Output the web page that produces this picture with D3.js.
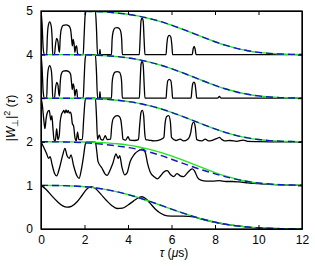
<!doctype html><html><head></head><body><script src='https://d3js.org/d3.v7.min.js'></script>

<style>
  body { margin: 0; background: #fff; }
  svg text { font: 12px "Liberation Sans", Arial, sans-serif; fill: #000; }
  .axis path, .axis line { stroke: #000; }
</style>

<script>
  // tick labels
  var tauTicks = [0, 2, 4, 6, 8, 10, 12];
  var yTicks = [0, 1, 2, 3, 4, 5];
  // each trace is shifted up by its offset
  var offsets = [0, 1, 2, 3, 4];

  // envelope sample times (us)
  var envTau = [0, 0.5, 1, 1.5, 2, 2.5, 3, 3.5, 4, 4.5, 5, 5.5, 6, 6.5, 7, 7.5, 8, 8.5, 9, 9.5, 10, 10.5, 11, 11.5, 12];
  // green envelope, bottom trace
  var greenLow = [1, 1, 0.996, 0.988, 0.971, 0.945, 0.906, 0.855, 0.792, 0.718, 0.634, 0.546, 0.455, 0.368, 0.287, 0.215, 0.155, 0.107, 0.070, 0.044, 0.026, 0.015, 0.008, 0.004, 0.002];
  // green envelope, upper traces
  var greenHigh = [1, 1, 1, 0.998, 0.995, 0.988, 0.976, 0.956, 0.926, 0.884, 0.829, 0.760, 0.678, 0.586, 0.487, 0.388, 0.293, 0.209, 0.140, 0.087, 0.050, 0.026, 0.012, 0.005, 0.002];
  // blue dashed envelope of trace 1 (sits a bit lower)
  var blueMid = [1, 1, 0.998, 0.99, 0.978, 0.96, 0.935, 0.905, 0.87, 0.825, 0.765, 0.69, 0.6, 0.51, 0.42, 0.34, 0.265, 0.195, 0.135, 0.088, 0.053, 0.03, 0.015, 0.007, 0.003];

  // black traces [tau, value] before offset
  var black0 = [[0,1],[0.25,0.9],[0.5,0.76],[0.75,0.63],[1.0,0.53],[1.2,0.5],[1.4,0.52],[1.65,0.62],[1.9,0.78],[2.1,0.91],[2.3,0.97],[2.5,0.93],[2.75,0.8],[3.0,0.66],[3.25,0.54],[3.5,0.47],[3.75,0.48],[4.0,0.55],[4.25,0.64],[4.5,0.72],[4.65,0.74],[4.85,0.68],[5.0,0.6],[5.25,0.46],[5.5,0.36],[5.8,0.3],[6.2,0.295],[6.5,0.295],[6.8,0.29],[7.0,0.28],[7.5,0.21],[8,0.155],[8.5,0.107],[9,0.07],[9.5,0.044],[10,0.026],[10.5,0.015],[11,0.008],[11.5,0.004],[12,0.002]];
  var black1 = [[0,1],[0.1,0.9],[0.25,0.74],[0.35,0.62],[0.42,0.66],[0.5,0.5],[0.62,0.28],[0.72,0.22],[0.85,0.4],[1.0,0.7],[1.1,0.85],[1.2,0.68],[1.3,0.62],[1.38,0.7],[1.5,0.45],[1.65,0.22],[1.75,0.16],[1.85,0.35],[1.95,0.65],[2.04,0.95],[2.1,0.995],[2.5,0.99],[2.56,0.8],[2.62,0.55],[2.8,0.4],[2.95,0.26],[3.05,0.23],[3.15,0.32],[3.3,0.5],[3.45,0.72],[3.55,0.62],[3.62,0.68],[3.72,0.42],[3.85,0.24],[3.95,0.28],[4.1,0.55],[4.3,0.72],[4.5,0.8],[4.68,0.84],[4.8,0.75],[4.9,0.5],[5.02,0.31],[5.2,0.2],[5.35,0.15],[5.5,0.22],[5.65,0.31],[5.8,0.34],[5.95,0.25],[6.1,0.2],[6.25,0.27],[6.4,0.22],[6.55,0.2],[6.7,0.27],[6.85,0.35],[6.95,0.38],[7.05,0.34],[7.2,0.18],[7.35,0.12],[7.6,0.1],[7.9,0.1],[8.2,0.11],[8.5,0.09],[8.8,0.09],[9.1,0.08],[9.5,0.06],[9.8,0.045],[10,0.04],[10.5,0.024],[11,0.012],[11.5,0.005],[12,0.002]];
  var black2 = [[0,1],[0.06,0.85],[0.12,0.55],[0.18,0.3],[0.24,0.55],[0.3,0.68],[0.38,0.72],[0.45,0.5],[0.5,0.6],[0.55,0.3],[0.6,0.05],[0.66,0.02],[0.72,0.3],[0.78,0.05],[0.84,0.15],[0.88,0.45],[0.94,0.62],[1.0,0.68],[1.05,0.72],[1.1,0.66],[1.15,0.73],[1.2,0.67],[1.25,0.72],[1.3,0.66],[1.35,0.68],[1.4,0.6],[1.44,0.42],[1.5,0.36],[1.56,0.1],[1.62,0.02],[1.68,0.22],[1.74,0.05],[1.9,0.05],[1.96,0.5],[2.03,0.95],[2.08,1.0],[2.5,1.0],[2.55,0.6],[2.6,0.05],[2.68,0.16],[2.75,0.06],[2.85,0.04],[2.95,0.14],[3.05,0.05],[3.2,0.06],[3.25,0.35],[3.31,0.52],[3.4,0.58],[3.5,0.6],[3.6,0.58],[3.67,0.5],[3.72,0.3],[3.77,0.06],[3.9,0.04],[4.0,0.12],[4.08,0.04],[4.3,0.03],[4.48,0.05],[4.54,0.4],[4.6,0.68],[4.66,0.72],[4.72,0.6],[4.77,0.2],[4.82,0.05],[4.95,0.04],[5.2,0.02],[5.5,0.05],[5.65,0.1],[5.7,0.4],[5.78,0.58],[5.87,0.6],[5.95,0.45],[6.0,0.1],[6.2,0.03],[6.4,0.06],[6.55,0.02],[6.75,0.06],[6.88,0.2],[6.95,0.4],[7.02,0.45],[7.09,0.35],[7.16,0.05],[7.4,0.02],[7.55,0.06],[7.7,0.02],[7.9,0.04],[8.1,0.08],[8.2,0.1],[8.3,0.06],[8.45,0.02],[8.7,0.03],[9.0,0.01],[9.3,0.04],[9.5,0.01],[10,0.005],[11,0],[12,0]];
  var black3 = [[0,1],[0.05,0.7],[0.1,0.15],[0.15,0],[0.26,0],[0.29,0.4],[0.33,0.65],[0.4,0.745],[0.47,0.65],[0.51,0.4],[0.54,0],[0.62,0],[0.66,0.2],[0.72,0.36],[0.78,0.3],[0.82,0.1],[0.85,0.05],[0.88,0.33],[0.93,0.55],[1.02,0.62],[1.15,0.63],[1.28,0.61],[1.36,0.55],[1.41,0.33],[1.44,0.2],[1.48,0.33],[1.52,0.25],[1.56,0.05],[1.6,0.17],[1.64,0.2],[1.68,0.02],[1.75,0],[1.94,0],[1.98,0.4],[2.03,0.9],[2.08,1.0],[2.5,1.0],[2.55,0.6],[2.6,0],[2.68,0],[2.71,0.15],[2.74,0],[3.24,0],[3.27,0.35],[3.32,0.52],[3.4,0.6],[3.5,0.61],[3.6,0.6],[3.67,0.52],[3.71,0.35],[3.74,0],[4.52,0],[4.56,0.4],[4.6,0.78],[4.65,0.85],[4.7,0.76],[4.74,0.35],[4.78,0],[5.75,0],[5.78,0.2],[5.83,0.4],[5.9,0.43],[5.97,0.4],[6.02,0.2],[6.05,0],[6.9,0],[6.94,0.2],[6.98,0.34],[7.03,0.37],[7.08,0.33],[7.12,0.18],[7.16,0],[8.12,0],[8.2,0.04],[8.28,0],[12,0]];
  var black4 = [[0,1],[0.05,0.7],[0.1,0.15],[0.15,0],[0.26,0],[0.29,0.4],[0.33,0.65],[0.4,0.75],[0.47,0.65],[0.51,0.4],[0.54,0],[0.62,0],[0.66,0.2],[0.72,0.37],[0.78,0.3],[0.82,0.1],[0.85,0.05],[0.88,0.35],[0.93,0.58],[1.02,0.67],[1.15,0.68],[1.28,0.66],[1.36,0.58],[1.41,0.35],[1.44,0.2],[1.48,0.35],[1.52,0.25],[1.56,0.05],[1.6,0.18],[1.64,0.2],[1.68,0.02],[1.75,0],[1.94,0],[1.98,0.4],[2.03,0.9],[2.08,1.0],[2.5,1.0],[2.55,0.6],[2.6,0],[2.68,0],[2.71,0.12],[2.74,0],[3.24,0],[3.27,0.35],[3.32,0.53],[3.4,0.61],[3.5,0.62],[3.6,0.6],[3.67,0.52],[3.71,0.35],[3.74,0],[4.52,0],[4.56,0.4],[4.6,0.78],[4.65,0.84],[4.7,0.76],[4.74,0.35],[4.78,0],[5.75,0],[5.78,0.2],[5.83,0.4],[5.9,0.44],[5.97,0.4],[6.02,0.2],[6.05,0],[6.95,0],[7.0,0.14],[7.04,0.19],[7.08,0.14],[7.13,0],[12,0]];

  var blacks = [black0, black1, black2, black3, black4];
  var greens = [greenLow, greenHigh, greenHigh, greenHigh, greenHigh];
  var blues = [greenLow, blueMid, greenHigh, greenHigh, greenHigh];

  var width = 315, height = 270;
  var mLeft = 41, mRight = 302, mTop = 11, mBottom = 229;

  var x = d3.scaleLinear().domain([0, 12]).range([mLeft, mRight]);
  var y = d3.scaleLinear().domain([0, 5]).range([mBottom, mTop]);

  var svg = d3.select("body").append("svg")
    .attr("width", width)
    .attr("height", height);

  svg.append("clipPath").attr("id", "plotclip")
    .append("rect")
    .attr("x", mLeft).attr("y", mTop)
    .attr("width", mRight - mLeft).attr("height", mBottom - mTop);

  var plot = svg.append("g").attr("clip-path", "url(#plotclip)");

  function traceLine(off) {
    return d3.line()
      .x(function(d) { return x(d[0]); })
      .y(function(d) { return y(d[1] + off); })
      .curve(d3.curveMonotoneX);
  }

  function envPoints(vals) {
    return envTau.map(function(t, i) { return [t, vals[i]]; });
  }

  // black traces
  offsets.forEach(function(off, i) {
    plot.append("path")
      .attr("d", traceLine(off)(blacks[i]))
      .attr("fill", "none")
      .attr("stroke", "#000")
      .attr("stroke-width", 1.3);
  });

  // green envelopes
  offsets.forEach(function(off, i) {
    plot.append("path")
      .attr("d", traceLine(off).curve(d3.curveBasis)(envPoints(greens[i])))
      .attr("fill", "none")
      .attr("stroke", "#1ee81e")
      .attr("stroke-width", 1.4);
  });

  // blue dashed envelopes
  offsets.forEach(function(off, i) {
    plot.append("path")
      .attr("d", traceLine(off).curve(d3.curveBasis)(envPoints(blues[i])))
      .attr("fill", "none")
      .attr("stroke", "#1515c8")
      .attr("stroke-width", 1.4)
      .attr("stroke-dasharray", "7,4");
  });

  // axes, ticks pointing inwards
  svg.append("g").attr("class", "axis")
    .attr("transform", "translate(0," + mBottom + ")")
    .call(d3.axisBottom(x).tickValues(tauTicks).tickSizeInner(-4).tickSizeOuter(0).tickPadding(6));
  svg.append("g").attr("class", "axis")
    .attr("transform", "translate(0," + mTop + ")")
    .call(d3.axisTop(x).tickValues(tauTicks).tickSizeInner(-4).tickSizeOuter(0).tickFormat(""));
  svg.append("g").attr("class", "axis")
    .attr("transform", "translate(" + mLeft + ",0)")
    .call(d3.axisLeft(y).tickValues(yTicks).tickFormat(d3.format("d")).tickSizeInner(-4).tickSizeOuter(0).tickPadding(8));
  svg.append("g").attr("class", "axis")
    .attr("transform", "translate(" + mRight + ",0)")
    .call(d3.axisRight(y).tickValues(yTicks).tickSizeInner(-4).tickSizeOuter(0).tickFormat(""));

  svg.selectAll(".axis text").style("font-size", "12px");

  svg.append("rect")
    .attr("x", mLeft).attr("y", mTop)
    .attr("width", mRight - mLeft).attr("height", mBottom - mTop)
    .attr("fill", "none")
    .attr("stroke", "#000")
    .attr("stroke-width", 1.3);

  // x label
  var xl = svg.append("text")
    .attr("x", 174).attr("y", 257)
    .attr("text-anchor", "middle");
  xl.append("tspan").attr("font-style", "italic").text("τ");
  xl.append("tspan").text(" (");
  xl.append("tspan").attr("font-style", "italic").text("μ");
  xl.append("tspan").text("s)");

  // y label
  var yl = svg.append("text")
    .attr("transform", "translate(15,118) rotate(-90)")
    .attr("text-anchor", "middle");
  yl.append("tspan").text("|");
  yl.append("tspan").attr("font-style", "italic").text("W");
  yl.append("tspan").attr("dy", 3).style("font-size", "9px").text("⊥");
  yl.append("tspan").attr("dy", -3).text("|");
  yl.append("tspan").attr("dy", -5).style("font-size", "9px").text("2");
  yl.append("tspan").attr("dy", 5).text(" (");
  yl.append("tspan").attr("font-style", "italic").text("τ");
  yl.append("tspan").text(")");
</script></body></html>
